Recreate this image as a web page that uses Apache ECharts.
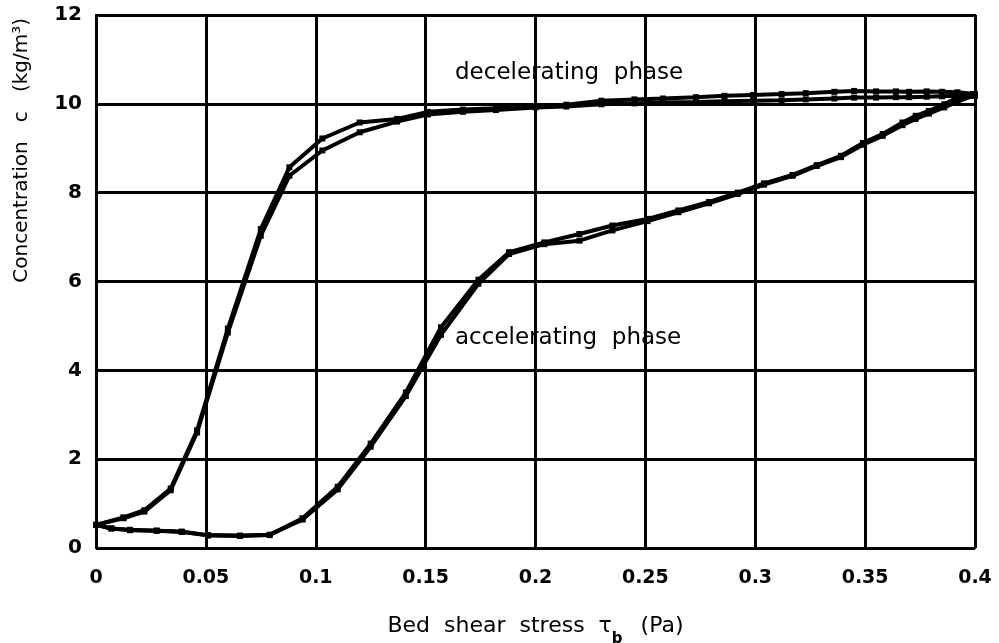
<!DOCTYPE html>
<html>
<head>
<meta charset="utf-8">
<script src="https://cdn.jsdelivr.net/npm/echarts@6/dist/echarts.min.js"></script>
<style>
  html, body { margin: 0; padding: 0; background: #fff; }
  #chart { width: 999px; height: 643px; }
</style>
</head>
<body>
<div id="chart"></div>
<script>
// Bed shear stress (Pa) sampled during the accelerating phase, low to high
var tauAcc = [0, 0.007, 0.0155, 0.0276, 0.039, 0.051, 0.0655, 0.079, 0.094, 0.110,
  0.125, 0.141, 0.157, 0.174, 0.188, 0.204, 0.220, 0.235, 0.251, 0.265,
  0.279, 0.292, 0.304, 0.317, 0.328, 0.339, 0.349, 0.358, 0.367, 0.373,
  0.379, 0.386, 0.392, 0.399];
// Concentration (kg/m3) for the two cycles of the accelerating phase
var cAcc1 = [0.52, 0.44, 0.40, 0.39, 0.37, 0.28, 0.27, 0.29, 0.67, 1.38,
  2.35, 3.50, 4.97, 6.04, 6.66, 6.88, 7.07, 7.26, 7.41, 7.60,
  7.79, 8.00, 8.21, 8.40, 8.62, 8.83, 9.12, 9.32, 9.58, 9.73,
  9.84, 9.99, 10.14, 10.22];
var cAcc2 = [0.52, 0.44, 0.41, 0.39, 0.36, 0.29, 0.28, 0.30, 0.64, 1.32,
  2.28, 3.42, 4.80, 5.95, 6.62, 6.84, 6.92, 7.15, 7.36, 7.56,
  7.76, 7.97, 8.18, 8.38, 8.60, 8.80, 9.08, 9.28, 9.52, 9.66,
  9.78, 9.92, 10.05, 10.18];

// Bed shear stress (Pa) sampled during the decelerating phase, high to low
var tauDec = [0.4, 0.392, 0.385, 0.378, 0.370, 0.364, 0.355, 0.345, 0.336, 0.323,
  0.312, 0.299, 0.286, 0.273, 0.258, 0.245, 0.230, 0.214, 0.2, 0.182,
  0.167, 0.151, 0.137, 0.120, 0.103, 0.088, 0.075, 0.060, 0.046, 0.034,
  0.022, 0.0125, 0];
// Concentration (kg/m3) for the two cycles of the decelerating phase
var cDec1 = [10.22, 10.26, 10.27, 10.28, 10.27, 10.28, 10.28, 10.29, 10.27, 10.24,
  10.22, 10.20, 10.18, 10.15, 10.12, 10.10, 10.07, 9.98, 9.94, 9.90,
  9.87, 9.82, 9.66, 9.58, 9.22, 8.57, 7.18, 4.94, 2.65, 1.34,
  0.85, 0.69, 0.52];
var cDec2 = [10.18, 10.18, 10.17, 10.16, 10.15, 10.15, 10.14, 10.14, 10.12, 10.10,
  10.08, 10.07, 10.06, 10.04, 10.03, 10.01, 9.99, 9.94, 9.92, 9.86,
  9.82, 9.76, 9.60, 9.36, 8.95, 8.38, 7.03, 4.85, 2.60, 1.30,
  0.82, 0.67, 0.52];

var xTicks = ['0', '0.05', '0.1', '0.15', '0.2', '0.25', '0.3', '0.35', '0.4'];
var yTicks = ['0', '2', '4', '6', '8', '10', '12'];

function pairs(xs, ys) {
  return xs.map(function (x, i) { return [x, ys[i]]; });
}

var FONT = 'DejaVu Sans';

function curve(name, xs, ys) {
  return {
    name: name,
    type: 'line',
    data: pairs(xs, ys),
    symbol: 'rect',
    symbolSize: 6,
    showSymbol: true,
    lineStyle: { color: '#000', width: 4 },
    itemStyle: { color: '#000' },
    animation: false,
    z: 5
  };
}

var chart = echarts.init(document.getElementById('chart'), null, { renderer: 'canvas' });

chart.setOption({
  backgroundColor: '#fff',
  animation: false,
  grid: {
    left: 96, right: 24, top: 15, bottom: 95,
    outerBoundsMode: 'none',
    containLabel: false,
    show: true, borderColor: '#000', borderWidth: 2
  },
  xAxis: {
    type: 'value',
    min: 0, max: 0.4, interval: 0.05,
    axisLine: { show: true, lineStyle: { color: '#000', width: 2 } },
    axisTick: { show: false },
    splitLine: { show: true, lineStyle: { color: '#000', width: 3 } },
    axisLabel: {
      color: '#000', fontFamily: FONT, fontSize: 19, fontWeight: 'bold', margin: 21,
      formatter: function (v) { return xTicks[Math.round(v / 0.05)]; }
    },
    name: 'Bed  shear  stress  {t|τ}{s|b}  (Pa)',
    nameLocation: 'middle',
    nameGap: 67,
    nameTextStyle: {
      color: '#000', fontFamily: FONT, fontSize: 22,
      rich: {
        t: { fontFamily: FONT, fontSize: 22, color: '#000' },
        s: { fontFamily: FONT, fontSize: 15, fontWeight: 'bold', color: '#000', verticalAlign: 'bottom', padding: [0, 4, -10, 0] }
      }
    }
  },
  yAxis: {
    type: 'value',
    min: 0, max: 12, interval: 2,
    axisLine: { show: true, lineStyle: { color: '#000', width: 2 } },
    axisTick: { show: false },
    splitLine: { show: true, lineStyle: { color: '#000', width: 3 } },
    axisLabel: {
      color: '#000', fontFamily: FONT, fontSize: 20, fontWeight: 'bold', margin: 14,
      formatter: function (v) { return yTicks[Math.round(v / 2)]; }
    }
  },
  graphic: [
    {
      type: 'text',
      left: 12, top: 18,
      rotation: Math.PI / 2,
      style: {
        text: 'Concentration   c   (kg/m³)',
        fontFamily: FONT, fontSize: 20, fill: '#000'
      }
    },
    {
      type: 'text', left: 455, top: 62, z: 10,
      style: { text: 'decelerating  phase', fontFamily: FONT, fontSize: 23, fill: '#000' }
    },
    {
      type: 'text', left: 455, top: 327, z: 10,
      style: { text: 'accelerating  phase', fontFamily: FONT, fontSize: 23, fill: '#000' }
    }
  ],
  series: [
    curve('accelerating 1', tauAcc, cAcc1),
    curve('accelerating 2', tauAcc, cAcc2),
    curve('decelerating 1', tauDec, cDec1),
    curve('decelerating 2', tauDec, cDec2)
  ]
});
</script>
</body>
</html>
